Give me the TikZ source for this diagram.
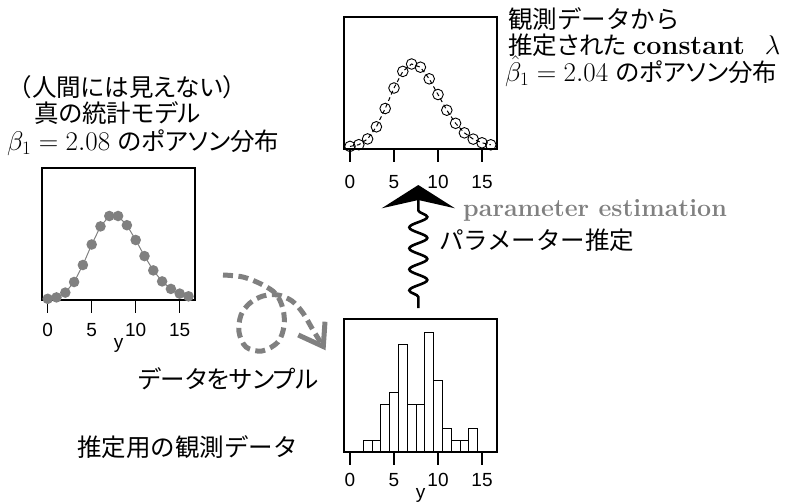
\RequirePackage{fix-cm}
\documentclass[tikz,border=0pt]{standalone}
\usepackage{fontspec}
\newfontfamily\jp[RawFeature=+palt]{Noto Sans CJK JP}
\newfontfamily\jpfw{Noto Sans CJK JP}
\newfontfamily\jpsc{Noto Sans CJK SC}
\newfontfamily\axisfont{Liberation Sans}
\usetikzlibrary{decorations.pathmorphing}
\newcommand\jpt[1]{{\jp\fontsize{24.5}{28}\selectfont #1}}
\newcommand\jpw[1]{{\jpfw\fontsize{24.5}{28}\selectfont #1}}
\begin{document}
\begin{tikzpicture}[x=1pt,y=-1pt,
  plotframe/.style={draw=black, line width=1.1pt},
  axtick/.style={draw=black, line width=1.1pt},
  ticklab/.style={inner sep=0pt, font=\axisfont\fontsize{19}{21}\selectfont},
  truedot/.style={circle, fill=gray, inner sep=0pt, minimum size=10.6pt},
  estdot/.style={circle, draw=black, line width=0.9pt, inner sep=0pt, minimum size=10.6pt},
  histbar/.style={draw=black, fill=white, line width=1pt},
  lbl/.style={inner sep=0pt, anchor=base west},
  lblc/.style={inner sep=0pt, anchor=base},
  latin/.style={font=\fontsize{27}{30}\selectfont},
  loopdash/.style={draw=gray, line width=5pt, dash pattern=on 10pt off 5.5pt},
]
\useasboundingbox (0,0) rectangle (807,504);

% ---------- left plot: true model ----------
\draw[plotframe] (42,168) rectangle (195,300);
\foreach \t in {0,5,10,15}{
  \draw[axtick] ({47.7+8.8*\t},300) -- ({47.7+8.8*\t},312.7);
  \node[ticklab] (ll\t) at ({47.7+8.8*\t},330) {\t};
}
\node[ticklab] (lylab) at (118.5,345.5) {y};
\foreach \yv [count=\k from 0] in {298.8,297.4,292.6,282.0,265.0,244.5,226.4,216.0,216.0,225.2,240.0,256.1,270.4,281.4,288.9,293.6,296.3}{
  \coordinate (lp\k) at ({47.7+8.8*\k},\yv);
}
\draw[gray, line width=1pt] (lp0) \foreach \k in {1,...,16}{ -- (lp\k)};
\foreach \k in {0,...,16}{ \node[truedot] (ld\k) at (lp\k) {}; }

% ---------- top plot: estimated model ----------
\draw[plotframe] (344,17) rectangle (497,149);
\foreach \t in {0,5,10,15}{
  \draw[axtick] ({350+8.8*\t},149) -- ({350+8.8*\t},161.7);
  \node[ticklab] (tl\t) at ({350+8.8*\t},181.7) {\t};
}
\foreach \yv [count=\k from 0] in {146.4,144.7,138.95,126.8,108.5,88.0,71.4,64.0,67.2,78.8,94.5,110.2,123.3,132.85,139.1,142.8,144.8}{
  \coordinate (tp\k) at ({350+8.8*\k},\yv);
}
\draw[black, line width=1pt, dash pattern=on 4pt off 3pt] (tp0) \foreach \k in {1,...,16}{ -- (tp\k)};
\foreach \k in {0,...,16}{ \node[estdot] (td\k) at (tp\k) {}; }

% ---------- bottom plot: histogram ----------
\foreach \c [count=\i from 2] in {1,1,4,5,9,4,4,10,6,2,1,1,2}{
  \draw[histbar] ({350+8.8*(\i-0.5)},452) rectangle ({350+8.8*(\i+0.5)},{452-12*\c});
}
\draw[plotframe] (344,319) rectangle (497,452);
\foreach \t in {0,5,10,15}{
  \draw[axtick] ({350+8.8*\t},452) -- ({350+8.8*\t},464.7);
  \node[ticklab] (bl\t) at ({350+8.8*\t},480) {\t};
}
\node[ticklab] (bylab) at (420.5,495.5) {y};

% ---------- wavy estimation arrow ----------
\coordinate (waveLow) at (418.3,308);
\coordinate (headNotch) at (418.3,200);
\coordinate (headTip) at (418.3,185);
\coordinate (headL) at (381.7,208.3);
\coordinate (headR) at (455,208.3);
\draw[line width=2.6pt, decorate, decoration={snake, amplitude=9pt, segment length=21pt, pre length=11pt, post length=2pt}] (waveLow) -- (headNotch);
\fill[black] (headTip) -- (headL) -- (headNotch) -- (headR) -- cycle;

% ---------- dashed sampling arrow ----------
\coordinate (loopStart) at (223,275);
\coordinate (loopTip) at (323.3,346.5);
\draw[loopdash] plot[smooth, tension=0.55] coordinates {(loopStart) (243,277) (262,284.5) (276,294) (283,309) (284,326) (278,342) (262,351) (246,347) (239,332) (241,315) (250,303) (263,296) (278,295) (292,301) (303,313) (313,330) (loopTip)};
\draw[draw=gray, line width=5pt, line join=miter] (298.3,335) -- (loopTip) -- (325,321.7);

% ---------- texts ----------
\node[lblc] (t1) at (127.5,96) {\jpt{{\jpsc （}人間には見えない{\jpsc ）}}};
\node[lblc] (t2) at (117.5,122) {\jpt{真の統計モデル}};
\node[lbl, latin] (t3) at (7,150.5) {$\beta_1 = 2.08$\hspace{8pt}\jpt{のポアソン分布}};

\node[lbl] (r1) at (508,28) {\jpw{観測データから}};
\node[lbl, latin] (r2) at (508,54) {\jpt{推定された}\hspace{6pt}\textbf{constant}\hspace{20pt}$\lambda$};
\node[lbl, latin] (r3) at (505,81.5) {$\hat{\beta}_1 = 2.04$\hspace{8pt}\jpt{のポアソン分布}};

\node[lbl, text=gray, font=\bfseries\fontsize{25}{28}\selectfont] (pe) at (463,216.5) {parameter estimation};
\node[lbl] (pj) at (439,249) {\jpw{パラメーター推定}};
\node[lbl] (ds) at (138,388) {\jpt{データをサンプル}};
\node[lbl] (od) at (77,456) {\jpw{推定用の観測データ}};
\end{tikzpicture}
\end{document}
